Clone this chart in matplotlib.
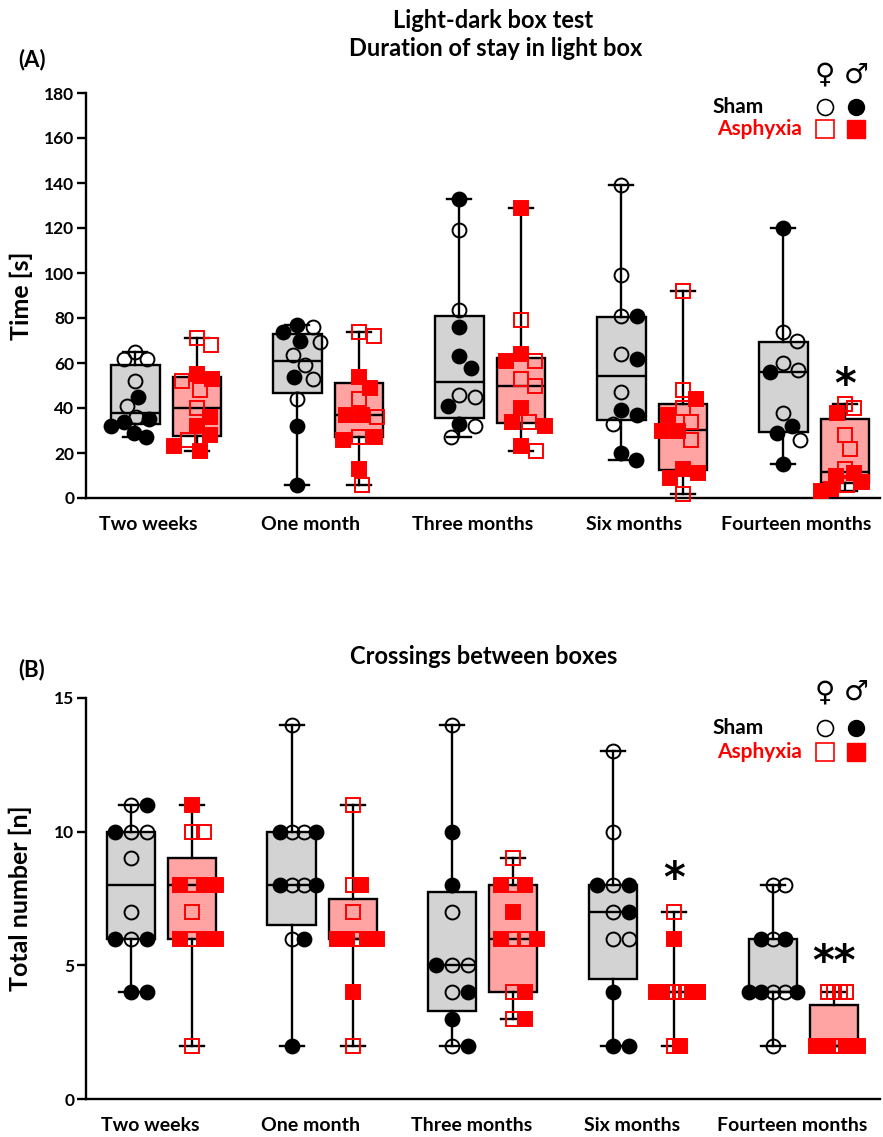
import numpy as np
import matplotlib
matplotlib.use("Agg")
import matplotlib.pyplot as plt

plt.rcParams['font.family'] = ['Lato', 'DejaVu Sans']
plt.rcParams['font.weight'] = 'bold'

groups = ["Two weeks", "One month", "Three months", "Six months", "Fourteen months"]

# (A) Duration of stay in light box [s]
time_sham_f = [[65, 62, 62, 52, 41, 36], [76, 69.5, 63.6, 59, 52.7, 43.9], [119, 83.6, 46, 45, 32, 27],
               [139, 99, 81, 64, 47, 33], [74, 70, 60, 57, 38, 26]]
time_sham_m = [[45, 35, 34, 32, 29, 27], [77, 74, 70, 54, 32, 6], [133, 76, 63, 58, 41, 33],
               [81, 62, 39, 37, 20, 17], [120, 56, 32, 29, 15]]
time_asph_f = [[71, 68, 52, 48, 40, 26], [74, 72, 44, 36, 27, 6], [79, 61, 53, 50, 34, 21],
               [92, 48, 40, 34, 26, 2], [42, 40, 28, 22, 13, 6]]
time_asph_m = [[55, 53, 36, 32, 28, 23, 21], [54, 49, 37, 37, 27, 26, 13], [129, 64, 61, 40, 34, 32, 23],
               [44, 37, 30, 30, 13, 11, 9], [38, 11, 10, 7, 4, 3]]
time_sham_q1 = [32.7, 46.8, 35.4, 34.7, 29.5]
time_sham_med = [37.6, 61.0, 51.7, 54.4, 56.1]
time_sham_q3 = [59.1, 72.9, 81.0, 80.6, 69.5]
time_asph_q1 = [27.7, 27.3, 33.5, 12.4, 6.5]
time_asph_med = [39.9, 36.9, 49.8, 30.2, 11.7]
time_asph_q3 = [53.6, 51.3, 62.1, 41.6, 35.0]
time_stars = ["", "", "", "", "*"]
time_star_y = [0, 0, 0, 0, 50]

# (B) Crossings between boxes [n]
cross_sham_f = [[11, 10, 10, 9, 7, 6], [14, 10, 10, 8, 8, 6], [14, 7, 5, 5, 4, 2],
                [13, 10, 8, 7, 6, 6], [8, 8, 6, 4, 4, 2]]
cross_sham_m = [[11, 10, 6, 6, 4, 4], [10, 10, 8, 8, 6, 2], [10, 8, 5, 4, 3, 2],
                [8, 8, 7, 4, 2, 2], [6, 6, 4, 4, 4]]
cross_asph_f = [[10, 10, 8, 7, 6, 2], [11, 8, 7, 6, 6, 2], [9, 8, 6, 6, 4, 3],
                [7, 4, 4, 4, 4, 2], [4, 4, 4, 4, 2, 2]]
cross_asph_m = [[11, 8, 8, 8, 6, 6, 6], [8, 6, 6, 6, 6, 4], [8, 8, 7, 6, 6, 4, 3],
                [6, 4, 4, 4, 4, 2], [2, 2, 2, 2, 2, 2]]
cross_sham_q1 = [6, 6.5, 3.3, 4.5, 4]
cross_sham_med = [8, 8, 5, 7, 4]
cross_sham_q3 = [10, 10, 7.75, 8, 6]
cross_asph_q1 = [6, 6, 4, 4, 2]
cross_asph_med = [8, 6, 6, 4, 2]
cross_asph_q3 = [9, 7.5, 8, 4, 3.5]
cross_stars = ["", "", "", "*", "**"]
cross_star_y = [0, 0, 0, 8.2, 5.1]

RED = "#ff0000"
GREY_FILL = "#d3d3d3"
RED_FILL = "#ffa3a3"


def swarm(ax, xc, vals, mindist, limit):
    # simple beeswarm in pixel space, returns x offsets in data units
    vals = np.asarray(vals, float)
    ys = ax.transData.transform(np.column_stack([np.full(len(vals), xc), vals]))[:, 1]
    offs = np.zeros(len(vals))
    placed = []
    for i in np.argsort(-ys, kind="stable"):
        y = ys[i]
        near = [(px, py) for px, py in placed if abs(py - y) < mindist]
        cands = [0.0]
        for px, py in near:
            dx = np.sqrt(mindist ** 2 - (py - y) ** 2)
            cands += [px - dx, px + dx]
        cands.sort(key=lambda c: (round(abs(c), 3), -c))
        for c in cands:
            if all((c - px) ** 2 + (y - py) ** 2 >= mindist ** 2 - 1e-3 for px, py in near):
                offs[i] = c
                break
        placed.append((offs[i], y))
    m = np.abs(offs).max()
    if m > limit:
        offs *= limit / m
    ppu = ax.transData.transform([[1, 0]])[0, 0] - ax.transData.transform([[0, 0]])[0, 0]
    return offs / ppu


def panel(ax, sham_f, sham_m, asph_f, asph_m, sq1, smed, sq3, aq1, amed, aq3,
          stars, star_y, mindist, tick_shift):
    x = np.arange(len(groups))
    pos_s = x - 0.19
    pos_a = x + 0.19
    for pos, f, m, q1, med, q3, fill in [(pos_s, sham_f, sham_m, sq1, smed, sq3, GREY_FILL),
                                         (pos_a, asph_f, asph_m, aq1, amed, aq3, RED_FILL)]:
        stats = []
        for i in range(len(groups)):
            allv = f[i] + m[i]
            stats.append(dict(med=med[i], q1=q1[i], q3=q3[i], whislo=min(allv), whishi=max(allv)))
        ax.bxp(stats, positions=pos, widths=0.3, capwidths=0.15, showfliers=False,
               patch_artist=True,
               boxprops=dict(facecolor=fill, edgecolor="black", linewidth=1.7),
               medianprops=dict(color="black", linewidth=1.7),
               whiskerprops=dict(color="black", linewidth=1.7),
               capprops=dict(color="black", linewidth=1.7))

    for pos, f_list, m_list, marker, col, ms in [(pos_s, sham_f, sham_m, "o", "black", 10),
                                                 (pos_a, asph_f, asph_m, "s", RED, 10.5)]:
        for i in range(len(groups)):
            vals = f_list[i] + m_list[i]
            dx = swarm(ax, pos[i], vals, mindist, 24)
            nf = len(f_list[i])
            ax.plot(pos[i] + dx[:nf], f_list[i], ls="none", marker=marker, ms=ms, mfc="none",
                    mec=col, mew=1.4, zorder=4, clip_on=False)
            ax.plot(pos[i] + dx[nf:], m_list[i], ls="none", marker=marker, ms=ms, mfc=col,
                    mec=col, mew=1.4, zorder=4, clip_on=False)

    for i, s in enumerate(stars):
        if s:
            ax.text(pos_a[i], star_y[i], s, ha="center", va="center", fontsize=30,
                    fontweight="bold", family="DejaVu Sans")

    ax.set_xticks(x + tick_shift)
    ax.set_xticklabels(groups, fontsize=14, fontweight="bold")
    ax.tick_params(axis="x", length=0, pad=13)
    ax.tick_params(axis="y", length=6.5, width=1.7, labelsize=12.5, pad=2)
    for lab in ax.get_yticklabels():
        lab.set_fontweight("bold")
    ax.spines[["top", "right"]].set_visible(False)
    ax.spines[["left", "bottom"]].set_linewidth(1.7)


def legend(ax, y_sex, y_sham, y_asph):
    kw = dict(transform=ax.transAxes, clip_on=False, ls="none")
    ax.text(0.931, y_sex, "\u2640", transform=ax.transAxes, ha="center", va="center",
            fontsize=20, family="DejaVu Sans", fontweight="normal")
    ax.text(0.970, y_sex, "\u2642", transform=ax.transAxes, ha="center", va="center",
            fontsize=20, family="DejaVu Sans", fontweight="normal")
    ax.text(0.789, y_sham, "Sham", transform=ax.transAxes, ha="left", va="center",
            fontsize=15, fontweight="bold")
    ax.text(0.795, y_asph, "Asphyxia", transform=ax.transAxes, ha="left", va="center",
            fontsize=15, fontweight="bold", color=RED)
    ax.plot([0.931], [y_sham], marker="o", ms=11.5, mfc="none", mec="black", mew=1.2, **kw)
    ax.plot([0.970], [y_sham], marker="o", ms=11.5, mfc="black", mec="black", **kw)
    ax.plot([0.931], [y_asph], marker="s", ms=13, mfc="none", mec=RED, mew=1.2, **kw)
    ax.plot([0.970], [y_asph], marker="s", ms=13, mfc=RED, mec=RED, **kw)


fig = plt.figure(figsize=(8.83, 11.37), dpi=100)

ax_a = fig.add_axes([86 / 883, 1 - 498 / 1137, 794 / 883, 405 / 1137])
ax_a.set_xlim(-0.494, 4.407)
ax_a.set_ylim(0, 180)
ax_a.set_yticks(np.arange(0, 181, 20))
panel(ax_a, time_sham_f, time_sham_m, time_asph_f, time_asph_m,
      time_sham_q1, time_sham_med, time_sham_q3, time_asph_q1, time_asph_med, time_asph_q3,
      time_stars, time_star_y, 16, -0.11)
ax_a.set_ylabel("Time [s]", fontsize=18, fontweight="bold", labelpad=8)
legend(ax_a, 1.045, 0.965, 0.911)

ax_b = fig.add_axes([86 / 883, 1 - 1099 / 1137, 794 / 883, 401 / 1137])
ax_b.set_xlim(-0.470, 4.474)
ax_b.set_ylim(0, 15)
ax_b.set_yticks([0, 5, 10, 15])
panel(ax_b, cross_sham_f, cross_sham_m, cross_asph_f, cross_asph_m,
      cross_sham_q1, cross_sham_med, cross_sham_q3, cross_asph_q1, cross_asph_med, cross_asph_q3,
      cross_stars, cross_star_y, 16, -0.07)
ax_b.set_ylabel("Total number [n]", fontsize=18, fontweight="bold", labelpad=16)
legend(ax_b, 1.015, 0.925, 0.865)

fig.text(493 / 883, 1 - 20 / 1137, "Light-dark box test", ha="center", va="center",
         fontsize=17, fontweight="bold")
fig.text(496 / 883, 1 - 48 / 1137, "Duration of stay in light box", ha="center", va="center",
         fontsize=17, fontweight="bold")
fig.text(484 / 883, 1 - 657 / 1137, "Crossings between boxes", ha="center", va="center",
         fontsize=17, fontweight="bold")
fig.text(18 / 883, 1 - 60 / 1137, "(A)", ha="left", va="center", fontsize=16, fontweight="bold")
fig.text(18 / 883, 1 - 670 / 1137, "(B)", ha="left", va="center", fontsize=16, fontweight="bold")

fig.savefig("out.png", dpi=100)
